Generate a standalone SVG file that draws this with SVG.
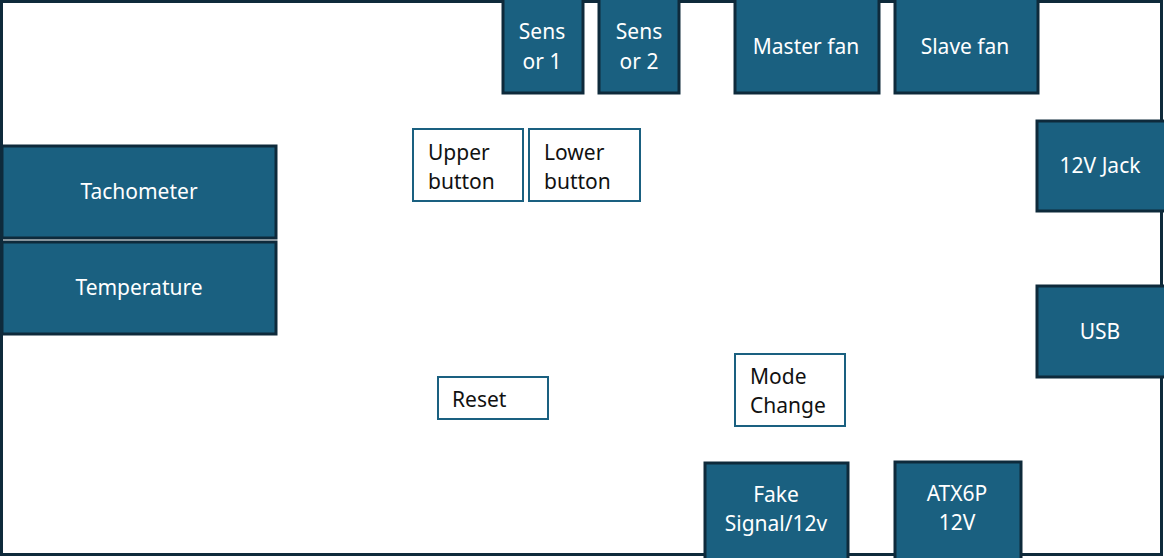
<svg xmlns="http://www.w3.org/2000/svg" width="1164" height="558" viewBox="0 0 1164 558">
<style>
.frame{fill:#ffffff;stroke:#0e2a3b;stroke-width:3}
.blk{fill:#1a6080;stroke:#0e2a3b;stroke-width:3}
.btn{fill:#ffffff;stroke:#1a6080;stroke-width:2}
.lt{font-family:"Noto Sans","Liberation Sans",sans-serif;font-size:21px;fill:#ffffff;text-anchor:middle}
.dk{font-family:"Noto Sans","Liberation Sans",sans-serif;font-size:21px;fill:#111111}
</style>
<rect class="frame" x="1.5" y="1.5" width="1160" height="553"/>
<g id="tachometer"><rect class="blk" x="2" y="146" width="274" height="92"/><text class="lt" x="139" y="199">Tachometer</text></g>
<g id="temperature"><rect class="blk" x="2" y="242" width="274" height="92"/><text class="lt" x="139" y="295">Temperature</text></g>
<g id="sensor1"><rect class="blk" x="503" y="-2" width="80" height="95"/><text class="lt" x="542" y="39">Sens</text><text class="lt" x="542" y="69">or 1</text></g>
<g id="sensor2"><rect class="blk" x="599" y="-2" width="80" height="95"/><text class="lt" x="639" y="39">Sens</text><text class="lt" x="639" y="69">or 2</text></g>
<g id="masterfan"><rect class="blk" x="735" y="-2" width="144" height="95"/><text class="lt" x="806" y="54">Master fan</text></g>
<g id="slavefan"><rect class="blk" x="895" y="-2" width="143" height="95"/><text class="lt" x="965" y="54">Slave fan</text></g>
<g id="jack12v"><rect class="blk" x="1037" y="121" width="130" height="90"/><text class="lt" x="1100" y="173">12V Jack</text></g>
<g id="usb"><rect class="blk" x="1037" y="286" width="130" height="91"/><text class="lt" x="1100" y="339">USB</text></g>
<g id="fakesignal"><rect class="blk" x="705" y="463" width="143" height="98"/><text class="lt" x="776" y="502">Fake</text><text class="lt" x="776" y="531">Signal/12v</text></g>
<g id="atx6p"><rect class="blk" x="895" y="462" width="126" height="99"/><text class="lt" x="957" y="501">ATX6P</text><text class="lt" x="957" y="530">12V</text></g>
<g id="upperbutton"><rect class="btn" x="413" y="129" width="110" height="72"/><text class="dk" x="428" y="160">Upper</text><text class="dk" x="428" y="189">button</text></g>
<g id="lowerbutton"><rect class="btn" x="529" y="129" width="111" height="72"/><text class="dk" x="544" y="160">Lower</text><text class="dk" x="544" y="189">button</text></g>
<g id="reset"><rect class="btn" x="438" y="377" width="110" height="42"/><text class="dk" x="452" y="407">Reset</text></g>
<g id="modechange"><rect class="btn" x="735" y="354" width="110" height="72"/><text class="dk" x="750" y="384">Mode</text><text class="dk" x="750" y="413">Change</text></g>
<g id="connectors"></g>
</svg>
